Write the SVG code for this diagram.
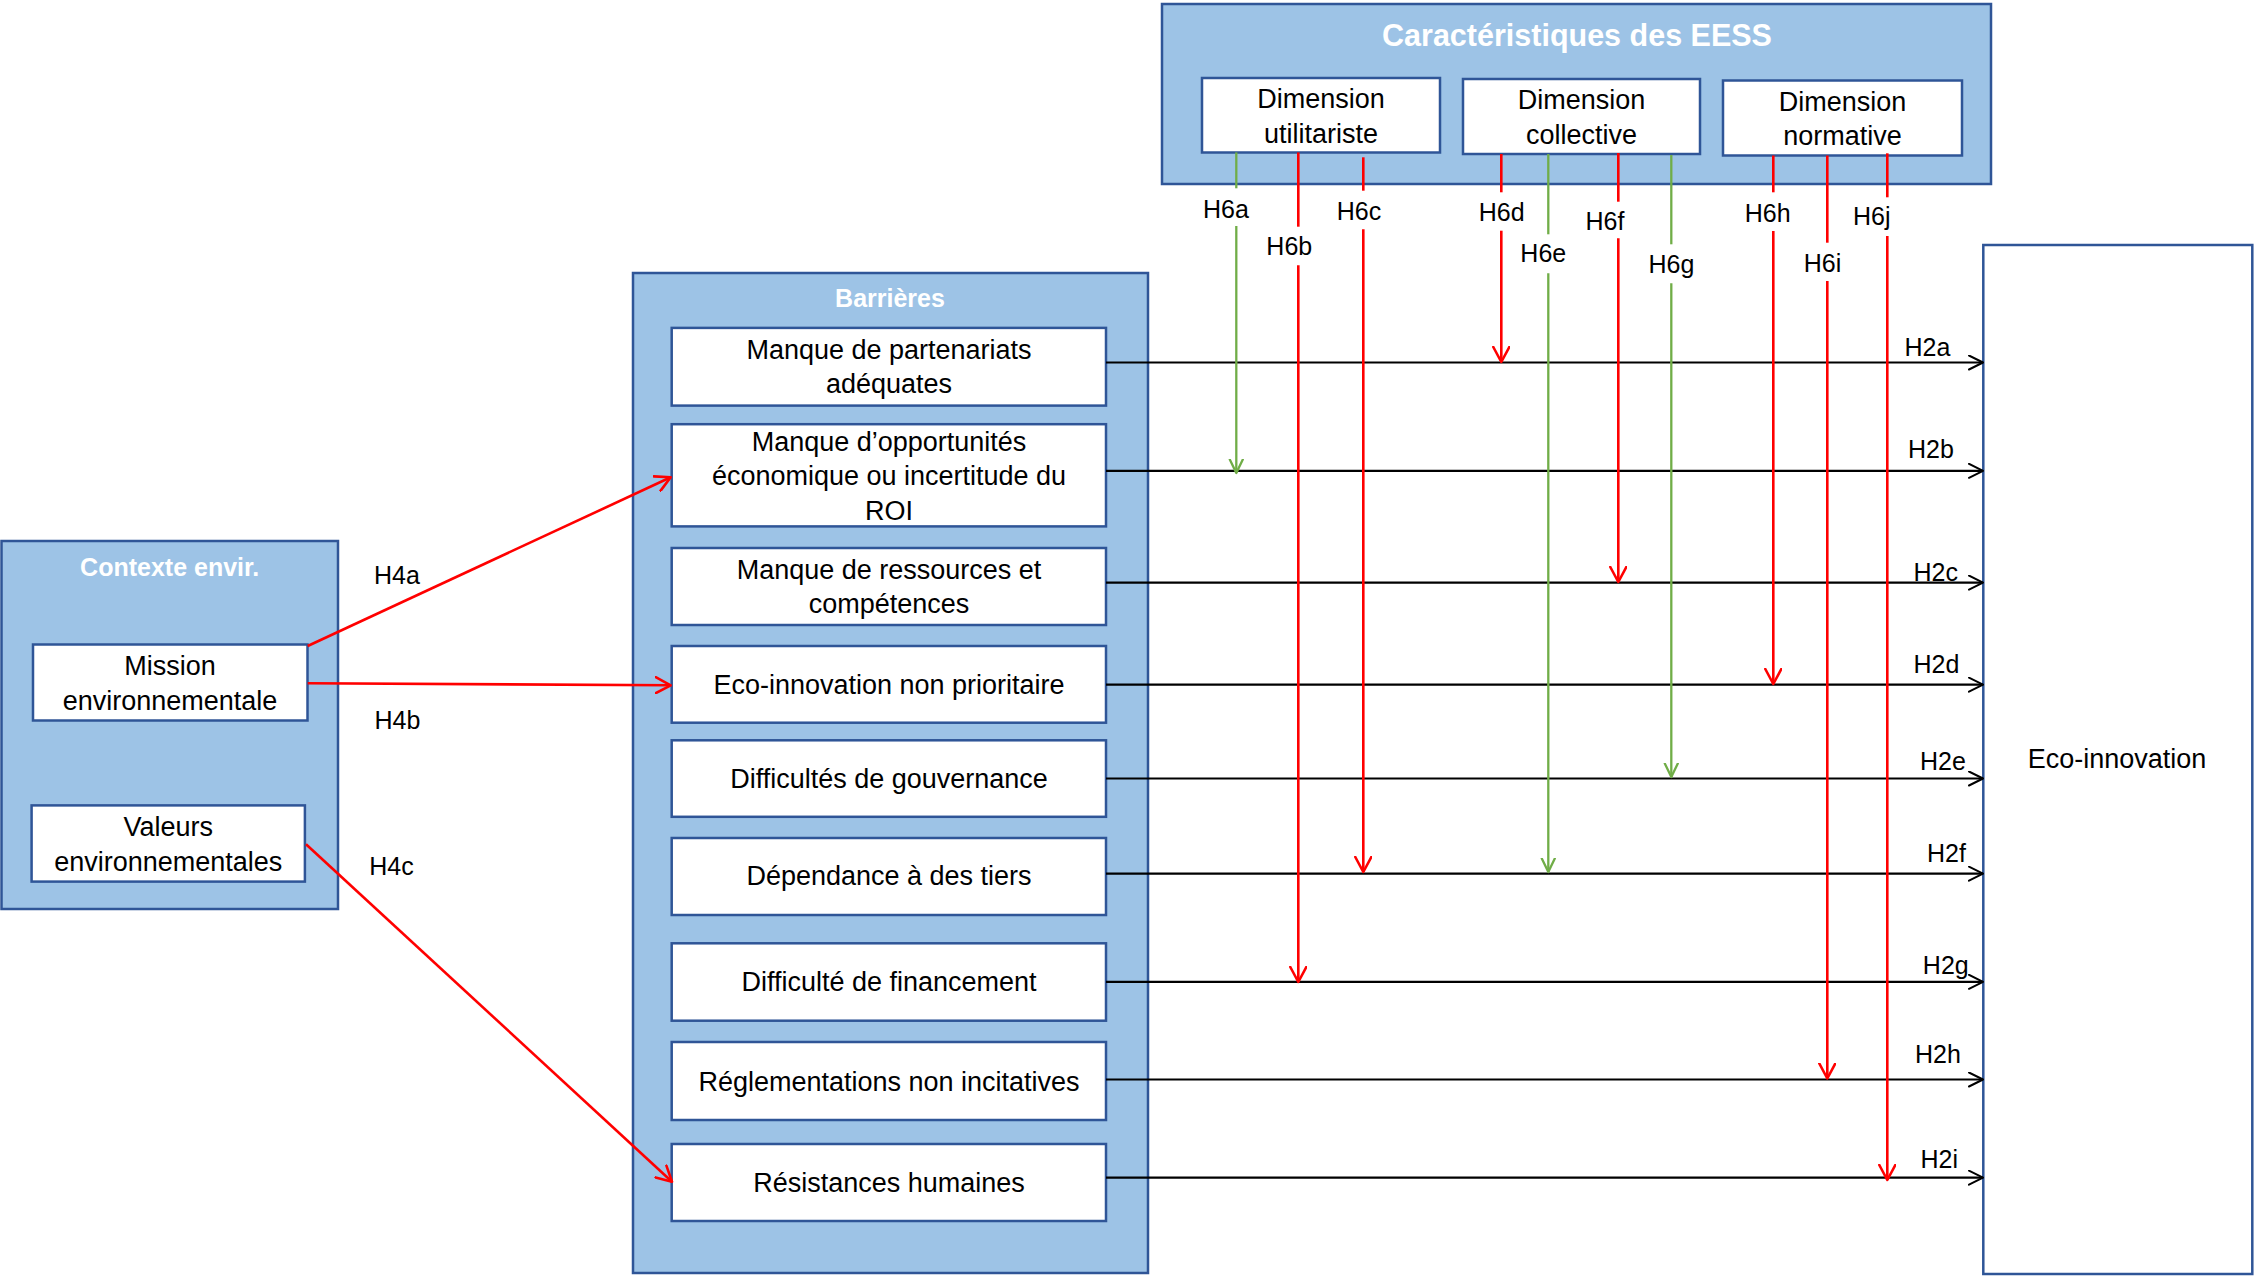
<svg xmlns="http://www.w3.org/2000/svg" width="2255" height="1276" viewBox="0 0 2255 1276">
<style>
.grp{fill:#9DC3E6;stroke:#2F5597;stroke-width:2.5}
.box{fill:#FFFFFF;stroke:#2F5597;stroke-width:2.5}
.ttl{font-family:"Liberation Sans",Arial,sans-serif;font-weight:bold;fill:#FFFFFF;text-anchor:middle}
.txt{font-family:"Liberation Sans",Arial,sans-serif;font-size:27px;fill:#000000;text-anchor:middle}
.lbl{font-family:"Liberation Sans",Arial,sans-serif;font-size:25px;fill:#000000;text-anchor:middle}
.blk{stroke:#000000;stroke-width:2.2;fill:none}
.red{stroke:#FF0000;stroke-width:2.6;fill:none}
.grn{stroke:#70AD47;stroke-width:2.3;fill:none}
</style>
<defs>
<marker id="ab" viewBox="0 0 16 16" refX="15" refY="8" markerWidth="16" markerHeight="16" markerUnits="userSpaceOnUse" orient="auto">
<path d="M1,1 L15,8 L1,15" fill="none" stroke="#000000" stroke-width="2" stroke-linejoin="round" stroke-linecap="round"/>
</marker>
<marker id="ar" viewBox="0 0 18 18" refX="16" refY="9" markerWidth="18" markerHeight="18" markerUnits="userSpaceOnUse" orient="auto">
<path d="M1,1 L16,9 L1,17" fill="none" stroke="#FF0000" stroke-width="2.6" stroke-linejoin="round" stroke-linecap="round"/>
</marker>
<marker id="ag" viewBox="0 0 16 16" refX="14.5" refY="8" markerWidth="16" markerHeight="16" markerUnits="userSpaceOnUse" orient="auto">
<path d="M1,1.5 L14.5,8 L1,14.5" fill="none" stroke="#70AD47" stroke-width="2.3" stroke-linejoin="round" stroke-linecap="round"/>
</marker>
</defs>
<rect width="2255" height="1276" fill="#FFFFFF"/>

<g id="eess">
<rect class="grp" x="1162" y="4" width="829" height="180"/>
<text class="ttl" x="1577" y="46" font-size="30.5">Caractéristiques des EESS</text>
</g>
<g id="dim-utilitariste">
<rect class="box" x="1202" y="78" width="238" height="74.5"/>
<text class="txt" x="1321" y="108">Dimension</text>
<text class="txt" x="1321" y="142.5">utilitariste</text>
</g>
<g id="dim-collective">
<rect class="box" x="1463" y="79" width="237" height="75"/>
<text class="txt" x="1581.5" y="109">Dimension</text>
<text class="txt" x="1581.5" y="143.5">collective</text>
</g>
<g id="dim-normative">
<rect class="box" x="1723" y="80.5" width="239" height="75"/>
<text class="txt" x="1842.5" y="110.5">Dimension</text>
<text class="txt" x="1842.5" y="145">normative</text>
</g>

<g id="barrieres">
<rect class="grp" x="633" y="273" width="515" height="1000"/>
<text class="ttl" x="890" y="306.5" font-size="25">Barrières</text>
</g>
<g id="b1">
<rect class="box" x="671.7" y="327.9" width="434.3" height="77.7"/>
<text class="txt" x="889" y="358.5">Manque de partenariats</text>
<text class="txt" x="889" y="393">adéquates</text>
</g>
<g id="b2">
<rect class="box" x="671.7" y="424.2" width="434.3" height="102.2"/>
<text class="txt" x="889" y="450.5">Manque d’opportunités</text>
<text class="txt" x="889" y="485">économique ou incertitude du</text>
<text class="txt" x="889" y="519.5">ROI</text>
</g>
<g id="b3">
<rect class="box" x="671.7" y="548" width="434.3" height="77"/>
<text class="txt" x="889" y="579">Manque de ressources et</text>
<text class="txt" x="889" y="613.3">compétences</text>
</g>
<g id="b4">
<rect class="box" x="671.7" y="646" width="434.3" height="76.7"/>
<text class="txt" x="889" y="693.5">Eco-innovation non prioritaire</text>
</g>
<g id="b5">
<rect class="box" x="671.7" y="740.3" width="434.3" height="76.5"/>
<text class="txt" x="889" y="787.5">Difficultés de gouvernance</text>
</g>
<g id="b6">
<rect class="box" x="671.7" y="838" width="434.3" height="77"/>
<text class="txt" x="889" y="885">Dépendance à des tiers</text>
</g>
<g id="b7">
<rect class="box" x="671.7" y="943.3" width="434.3" height="77.4"/>
<text class="txt" x="889" y="991">Difficulté de financement</text>
</g>
<g id="b8">
<rect class="box" x="671.7" y="1042" width="434.3" height="78"/>
<text class="txt" x="889" y="1090.7">Réglementations non incitatives</text>
</g>
<g id="b9">
<rect class="box" x="671.7" y="1144" width="434.3" height="77"/>
<text class="txt" x="889" y="1191.7">Résistances humaines</text>
</g>

<g id="contexte">
<rect class="grp" x="1.5" y="541" width="336.5" height="368"/>
<text class="ttl" x="169.7" y="576" font-size="25">Contexte envir.</text>
</g>
<g id="mission">
<rect class="box" x="33" y="644.5" width="274.5" height="76"/>
<text class="txt" x="170" y="675">Mission</text>
<text class="txt" x="170" y="709.5">environnementale</text>
</g>
<g id="valeurs">
<rect class="box" x="31.6" y="805.4" width="273.3" height="76.2"/>
<text class="txt" x="168.3" y="836">Valeurs</text>
<text class="txt" x="168.3" y="870.5">environnementales</text>
</g>

<g id="eco-innovation">
<rect class="box" x="1983.3" y="245" width="269" height="1029"/>
<text class="txt" x="2117" y="768">Eco-innovation</text>
</g>

<g id="connectors">
<line class="red" x1="307.7" y1="646" x2="670.7" y2="477.3" marker-end="url(#ar)"/>
<line class="red" x1="307.7" y1="683.3" x2="670.7" y2="685.3" marker-end="url(#ar)" stroke-width="3"/>
<line class="red" x1="306" y1="844.2" x2="672" y2="1181.7" marker-end="url(#ar)" stroke-width="2.3"/>
<text class="lbl" x="397" y="584">H4a</text>
<text class="lbl" x="397.5" y="729">H4b</text>
<text class="lbl" x="391.5" y="875">H4c</text>

<line class="blk" x1="1106" y1="362.5" x2="1983" y2="362.5" marker-end="url(#ab)"/>
<line class="blk" x1="1106" y1="470.8" x2="1983" y2="470.8" marker-end="url(#ab)"/>
<line class="blk" x1="1106" y1="582.6" x2="1983" y2="582.6" marker-end="url(#ab)" stroke-width="2.6"/>
<line class="blk" x1="1106" y1="684.7" x2="1983" y2="684.7" marker-end="url(#ab)"/>
<line class="blk" x1="1106" y1="778.5" x2="1983" y2="778.5" marker-end="url(#ab)"/>
<line class="blk" x1="1106" y1="873.7" x2="1983" y2="873.7" marker-end="url(#ab)"/>
<line class="blk" x1="1106" y1="981.8" x2="1983" y2="981.8" marker-end="url(#ab)" stroke-width="2.6"/>
<line class="blk" x1="1106" y1="1079.5" x2="1983" y2="1079.5" marker-end="url(#ab)"/>
<line class="blk" x1="1106" y1="1177.7" x2="1983" y2="1177.7" marker-end="url(#ab)" stroke-width="2.6"/>
<text class="lbl" x="1927.5" y="355.5">H2a</text>
<text class="lbl" x="1931" y="458">H2b</text>
<text class="lbl" x="1935.7" y="581">H2c</text>
<text class="lbl" x="1936.4" y="673">H2d</text>
<text class="lbl" x="1943" y="769.5">H2e</text>
<text class="lbl" x="1946.5" y="861.5">H2f</text>
<text class="lbl" x="1945.8" y="973.5">H2g</text>
<text class="lbl" x="1937.9" y="1063">H2h</text>
<text class="lbl" x="1939.3" y="1168">H2i</text>

<line class="grn" x1="1236.3" y1="152.4" x2="1236.3" y2="188.3"/>
<line class="grn" x1="1236.3" y1="226" x2="1236.3" y2="473" marker-end="url(#ag)"/>
<text class="lbl" x="1226" y="218">H6a</text>
<line class="red" x1="1298.3" y1="152.4" x2="1298.3" y2="226.7"/>
<line class="red" x1="1298.3" y1="265.3" x2="1298.3" y2="982" marker-end="url(#ar)"/>
<text class="lbl" x="1289.3" y="254.5">H6b</text>
<line class="red" x1="1363.3" y1="157.3" x2="1363.3" y2="190.7"/>
<line class="red" x1="1363.3" y1="229.3" x2="1363.3" y2="872" marker-end="url(#ar)"/>
<text class="lbl" x="1359" y="219.5">H6c</text>
<line class="red" x1="1501.3" y1="154" x2="1501.3" y2="192.3"/>
<line class="red" x1="1501.3" y1="230.7" x2="1501.3" y2="362" marker-end="url(#ar)"/>
<text class="lbl" x="1501.7" y="221">H6d</text>
<line class="grn" x1="1548.3" y1="154" x2="1548.3" y2="234.3"/>
<line class="grn" x1="1548.3" y1="273.3" x2="1548.3" y2="872" marker-end="url(#ag)"/>
<text class="lbl" x="1543.3" y="262">H6e</text>
<line class="red" x1="1618.3" y1="153" x2="1618.3" y2="201.7"/>
<line class="red" x1="1618.3" y1="238.3" x2="1618.3" y2="582" marker-end="url(#ar)"/>
<text class="lbl" x="1605" y="230">H6f</text>
<line class="grn" x1="1671.3" y1="155" x2="1671.3" y2="244.3"/>
<line class="grn" x1="1671.3" y1="283.3" x2="1671.3" y2="777" marker-end="url(#ag)"/>
<text class="lbl" x="1671.5" y="272.5">H6g</text>
<line class="red" x1="1773.3" y1="155.5" x2="1773.3" y2="192.3"/>
<line class="red" x1="1773.3" y1="231" x2="1773.3" y2="684" marker-end="url(#ar)"/>
<text class="lbl" x="1767.7" y="222">H6h</text>
<line class="red" x1="1827.3" y1="155.5" x2="1827.3" y2="242.7"/>
<line class="red" x1="1827.3" y1="281" x2="1827.3" y2="1078.5" marker-end="url(#ar)"/>
<text class="lbl" x="1822.5" y="271.5">H6i</text>
<line class="red" x1="1887.3" y1="153.3" x2="1887.3" y2="197.3"/>
<line class="red" x1="1887.3" y1="236" x2="1887.3" y2="1180" marker-end="url(#ar)"/>
<text class="lbl" x="1871.7" y="225">H6j</text>
</g>
</svg>
